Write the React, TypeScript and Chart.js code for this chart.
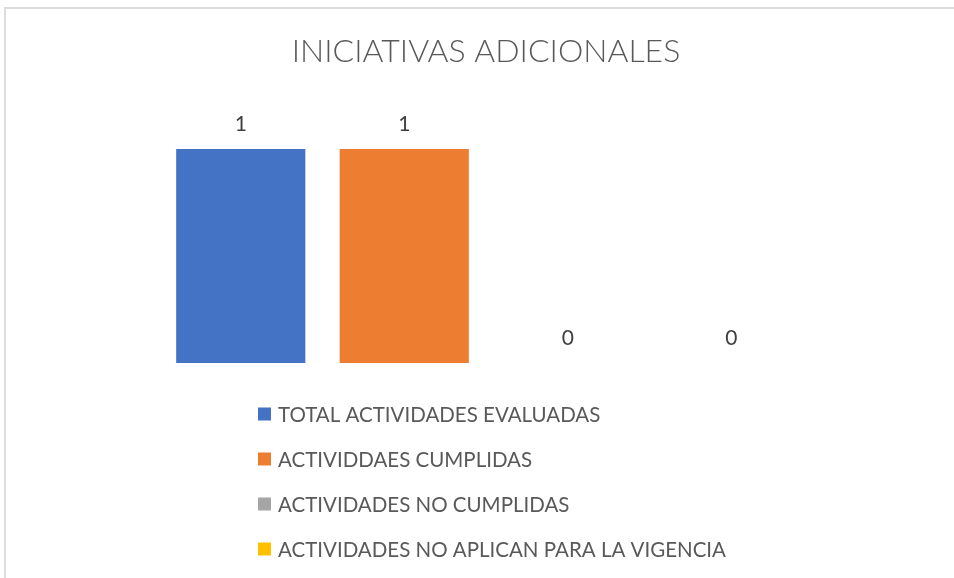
import { useEffect, useRef } from "react";
import { Chart, registerables } from "chart.js";

Chart.register(...registerables);

const categories = ["INICIATIVAS ADICIONALES"];
const seriesLabels = [
  "TOTAL ACTIVIDADES EVALUADAS",
  "ACTIVIDDAES CUMPLIDAS",
  "ACTIVIDADES NO CUMPLIDAS",
  "ACTIVIDADES NO APLICAN PARA LA VIGENCIA",
];
const seriesValues = [1, 1, 0, 0];
const seriesColors = ["#4472C4", "#ED7D31", "#A5A5A5", "#FFC000"];
const chartTitle = "INICIATIVAS ADICIONALES";

const FONT = "Lato, 'Open Sans', sans-serif";

const dataLabelPlugin = {
  id: "dataLabels",
  afterDatasetsDraw(chart: any) {
    const ctx = chart.ctx;
    ctx.save();
    ctx.font = `400 21px ${FONT}`;
    ctx.fillStyle = "#404040";
    ctx.textAlign = "center";
    ctx.textBaseline = "middle";
    chart.data.datasets.forEach((ds: any, di: number) => {
      const meta = chart.getDatasetMeta(di);
      meta.data.forEach((el: any, i: number) => {
        ctx.fillText(String(ds.data[i]), el.x, el.y - 25);
      });
    });
    ctx.restore();
  },
};

const stackedLegendPlugin = {
  id: "stackedLegend",
  afterDraw(chart: any) {
    const ctx = chart.ctx;
    const startX = 258;
    const startY = 414;
    const step = 45;
    const box = 13;
    ctx.save();
    ctx.font = `400 20.5px ${FONT}`;
    ctx.textBaseline = "middle";
    ctx.textAlign = "left";
    chart.data.datasets.forEach((ds: any, i: number) => {
      const y = startY + i * step;
      ctx.fillStyle = ds.backgroundColor;
      ctx.fillRect(startX, y - box / 2, box, box);
      ctx.fillStyle = "#595959";
      ctx.fillText(ds.label, startX + 20, y + 1);
    });
    ctx.restore();
  },
};

export default function App() {
  const ref = useRef<HTMLCanvasElement | null>(null);

  useEffect(() => {
    if (!ref.current) return;
    const titleSize = 32;
    const lh = titleSize * 1.2;
    const chart = new Chart(ref.current, {
      type: "bar",
      data: {
        labels: categories,
        datasets: seriesLabels.map((label, i) => ({
          label,
          data: [seriesValues[i]],
          backgroundColor: seriesColors[i],
          borderWidth: 0,
          categoryPercentage: 1,
          barPercentage: 0.79,
        })),
      },
      options: {
        responsive: false,
        animation: false,
        layout: { padding: { left: 159, right: 141, top: 0, bottom: 215 } },
        scales: {
          x: { display: false },
          y: { display: false, min: 0, max: 1 },
        },
        plugins: {
          legend: { display: false },
          tooltip: { enabled: false },
          title: {
            display: true,
            text: chartTitle,
            color: "#595959",
            font: { family: FONT, size: titleSize, weight: "300" as any, lineHeight: 1.2 },
            padding: { top: 52 - lh / 2, bottom: 149 - 52 - lh / 2 },
          },
        },
      },
      plugins: [dataLabelPlugin, stackedLegendPlugin],
    });
    return () => chart.destroy();
  }, []);

  return (
    <div
      style={{
        position: "fixed",
        left: 0,
        top: 0,
        width: 954,
        height: 578,
        background: "#ffffff",
        overflow: "hidden",
      }}
    >
      <div
        style={{
          position: "absolute",
          left: 4,
          top: 7,
          width: 1000,
          height: 700,
          border: "2px solid #dcdcdc",
          boxSizing: "border-box",
        }}
      />
      <canvas
        ref={ref}
        width={954}
        height={578}
        style={{ position: "absolute", left: 0, top: 0, width: 954, height: 578 }}
      />
    </div>
  );
}
